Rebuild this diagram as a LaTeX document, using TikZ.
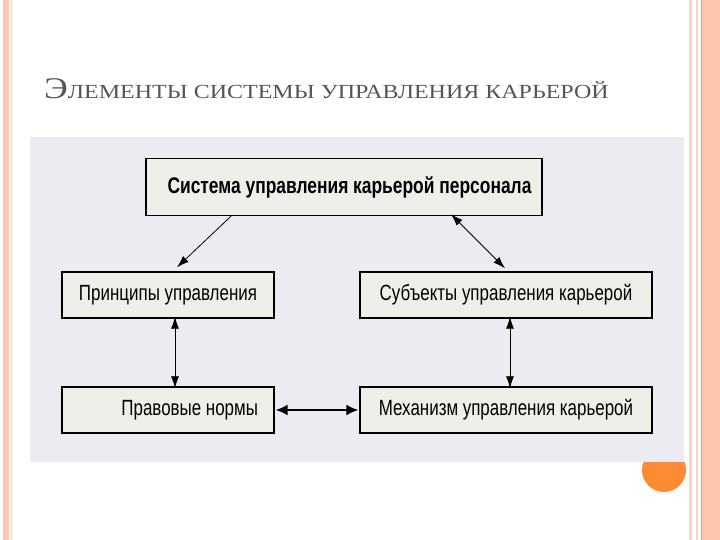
\documentclass[tikz,border=0pt]{standalone}
\usepackage{fontspec}
\setmainfont{Liberation Serif}
\newfontfamily\titlefont[FakeStretch=1.2]{Liberation Serif}
\newfontfamily\boxfont[FakeStretch=0.77]{Liberation Sans}
\usetikzlibrary{arrows.meta}
\definecolor{salmon}{HTML}{FCC5AE}
\definecolor{salmondark}{HTML}{E9A083}
\definecolor{tanline}{HTML}{EFD8C8}
\definecolor{panel}{HTML}{EBEBF1}
\definecolor{boxfill}{HTML}{EFEFE9}
\definecolor{dot}{HTML}{FD8A35}
\definecolor{titlegray}{HTML}{555555}
\tikzset{
  box/.style={draw=black, line width=1.4pt, fill=boxfill, minimum height=46pt, inner sep=0pt, font=\boxfont\fontsize{22}{22}\selectfont, text=black},
  conn/.style={line width=0.8pt, -{Latex[length=12pt,width=8pt]}},
  dconn/.style={line width=0.8pt, {Latex[length=12pt,width=8pt]}-{Latex[length=12pt,width=8pt]}},
  tconn/.style={line width=1.8pt, {Latex[length=12pt,width=11pt]}-{Latex[length=12pt,width=11pt]}}
}
\begin{document}
\begin{tikzpicture}[x=1pt,y=-1pt]
\useasboundingbox (0,0) rectangle (720,540);
\fill[white] (0,0) rectangle (720,540);
% left border
\fill[salmon] (3,0) rectangle (9,540);
\fill[tanline!60] (10,0) rectangle (13,540);
% right border
\fill[tanline] (689,0) rectangle (692,540);
\fill[tanline] (696,0) rectangle (698,540);
\fill[salmondark] (700.5,0) rectangle (702,540);
\fill[salmon] (702,0) rectangle (720,540);
% orange dot
\fill[dot] (664,470) circle (22);
% panel
\fill[panel] (30,137) rectangle (684,462);
% title
\node[anchor=base west, inner sep=0pt, text=titlegray] (title) at (44,98.5)
  {\titlefont\fontsize{30}{30}\selectfont Э\fontsize{20}{20}\selectfont ЛЕМЕНТЫ СИСТЕМЫ УПРАВЛЕНИЯ КАРЬЕРОЙ};
% boxes
\node[box, minimum width=396pt, minimum height=57pt, font=\boxfont\bfseries\fontsize{22.6}{22.6}\selectfont] (top) at (344,187) {\hspace*{11pt}Система управления карьерой персонала};
\node[box, minimum width=212pt] (pr) at (168,295) {Принципы управления};
\node[box, minimum width=292pt] (sub) at (506,295) {Субъекты управления карьерой};
\node[box, minimum width=212pt, text width=212pt, align=flush right] (law) at (168,410) {Правовые нормы\hspace*{16pt}};
\node[box, minimum width=292pt] (mech) at (506,410) {Механизм управления карьерой};
% connectors
\draw[conn] ([xshift=-113pt]top.south) -- ([xshift=9pt,yshift=4pt]pr.north);
\draw[dconn] ([xshift=107pt,yshift=2pt]top.south) -- ([xshift=-1pt,yshift=3pt]sub.north);
\draw[dconn] ([xshift=7pt,yshift=2pt]pr.south) -- ([xshift=7pt,yshift=-2pt]law.north);
\draw[dconn] ([xshift=4pt,yshift=2pt]sub.south) -- ([xshift=4pt,yshift=-2pt]mech.north);
\draw[tconn] ([xshift=1pt]law.east) -- ([xshift=-1pt]mech.west);
\end{tikzpicture}
\end{document}
